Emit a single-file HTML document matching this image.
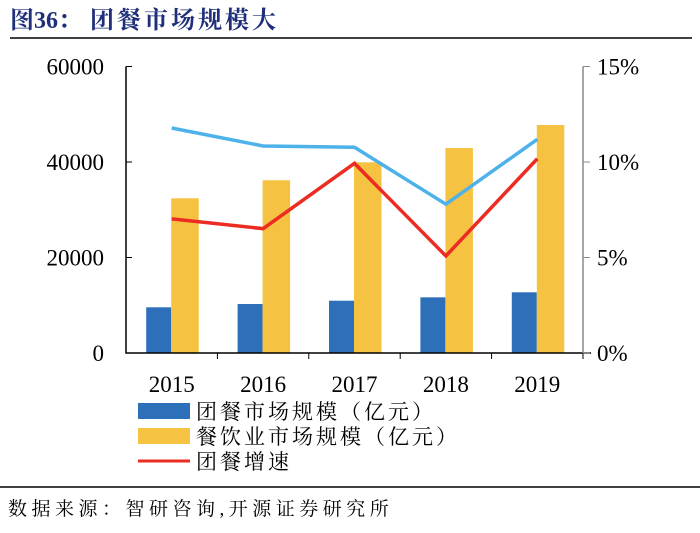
<!DOCTYPE html>
<html><head><meta charset="utf-8"><style>
body{margin:0;background:#fff;width:700px;height:528px;overflow:hidden;font-family:"Liberation Serif","Noto Serif CJK SC",serif;}
</style></head><body>
<svg width="700" height="528" xmlns="http://www.w3.org/2000/svg">
<text x="10" y="28" font-size="24" font-weight="bold" fill="#1f2f7a" font-family="Liberation Serif, Noto Serif CJK SC, serif">图36：<tspan dx="8" letter-spacing="3">团餐市场规模大</tspan></text>
<line x1="10" y1="38" x2="692" y2="38" stroke="#000" stroke-width="1.5"/>
<g id="plot"></g>
<line x1="0" y1="487" x2="700" y2="487" stroke="#000" stroke-width="1.5"/>
<text x="8" y="515" font-size="19" letter-spacing="4.5" fill="#000" font-family="Liberation Serif, Noto Serif CJK SC, serif">数据来源：智研咨询,开源证券研究所</text>
</svg>
<script>
const categories=["2015","2016","2017","2018","2019"];
const tuancanScale=[9570,10260,10950,11660,12710];
const cateringScale=[32400,36170,39940,42930,47750];
const tuancanGrowth=[7.02,6.51,9.93,5.08,10.17];
const cateringGrowth=[11.78,10.84,10.77,7.79,11.19];
const leftTicks=[0,20000,40000,60000];
const rightTicks=[0,5,10,15];
const L=126,R=583,T=66.5,B=353;
const yL=v=>B-(v/60000)*(B-T);
const yR=v=>B-(v/15)*(B-T);
const bw=(R-L)/categories.length;
const xc=i=>L+bw*(i+0.5);
const NS="http://www.w3.org/2000/svg";
const g=document.getElementById('plot');
function mk(tag,attrs){const e=document.createElementNS(NS,tag);for(const k in attrs)e.setAttribute(k,attrs[k]);g.appendChild(e);return e;}
categories.forEach((c,i)=>{
 let b=mk('rect',{x:xc(i)-25.5,y:yL(tuancanScale[i]),width:25,height:B-yL(tuancanScale[i]),fill:'#2e6fba'});
 
 
 let o=mk('rect',{x:xc(i)-0.5,y:yL(cateringScale[i]),width:27.5,height:B-yL(cateringScale[i]),fill:'#f5c242'});
 
 
 let t=mk('text',{x:xc(i),y:392,'font-size':23,'text-anchor':'middle',fill:'#000'});t.textContent=c;
 
 
});
let lb=mk('polyline',{points:cateringGrowth.map((v,i)=>xc(i)+','+yR(v)).join(' '),fill:'none',stroke:'#4db1ea','stroke-width':3.5});


let lr=mk('polyline',{points:tuancanGrowth.map((v,i)=>xc(i)+','+yR(v)).join(' '),fill:'none',stroke:'#ec2c22','stroke-width':3.5});


let ax=mk('path',{d:`M${L},${T} V${B} H${R+8}`,fill:'none',stroke:'#000','stroke-width':1.5});


let ar=mk('line',{x1:R,y1:T,x2:R,y2:B,stroke:'#888','stroke-width':1.5});


for(let i=1;i<=categories.length;i++){let tk=mk('line',{x1:L+bw*i,y1:B,x2:L+bw*i,y2:B+6,stroke:'#000','stroke-width':1});
 
 }
leftTicks.forEach(v=>{let tk=mk('line',{x1:L,y1:yL(v),x2:L+6,y2:yL(v),stroke:'#000','stroke-width':1});
 
 
 let t=mk('text',{x:104,y:yL(v)+8,'font-size':23,'text-anchor':'end',fill:'#000'});t.textContent=v;
 
 });
rightTicks.forEach(v=>{let tk=mk('line',{x1:R,y1:yR(v),x2:R+7,y2:yR(v),stroke:'#888','stroke-width':1});
 
 
 let t=mk('text',{x:597,y:yR(v)+8,'font-size':23,fill:'#000'});t.textContent=v+'%';
 
 });
const leg=[['rect','#2e6fba','团餐市场规模（亿元）',411],['rect','#f5c242','餐饮业市场规模（亿元）',436],['line','#ec2c22','团餐增速',461]];
leg.forEach((l,i)=>{
 let m=l[0]=='rect'?mk('rect',{x:138,y:l[3]-8,width:52,height:16,fill:l[1]}):mk('line',{x1:138,y1:l[3],x2:190,y2:l[3],stroke:l[1],'stroke-width':3});
 
 
 let t=mk('text',{x:196,y:l[3]+8,'font-size':21,'letter-spacing':3,fill:'#000'});t.textContent=l[2];
 
 
});
</script>
</body></html>
